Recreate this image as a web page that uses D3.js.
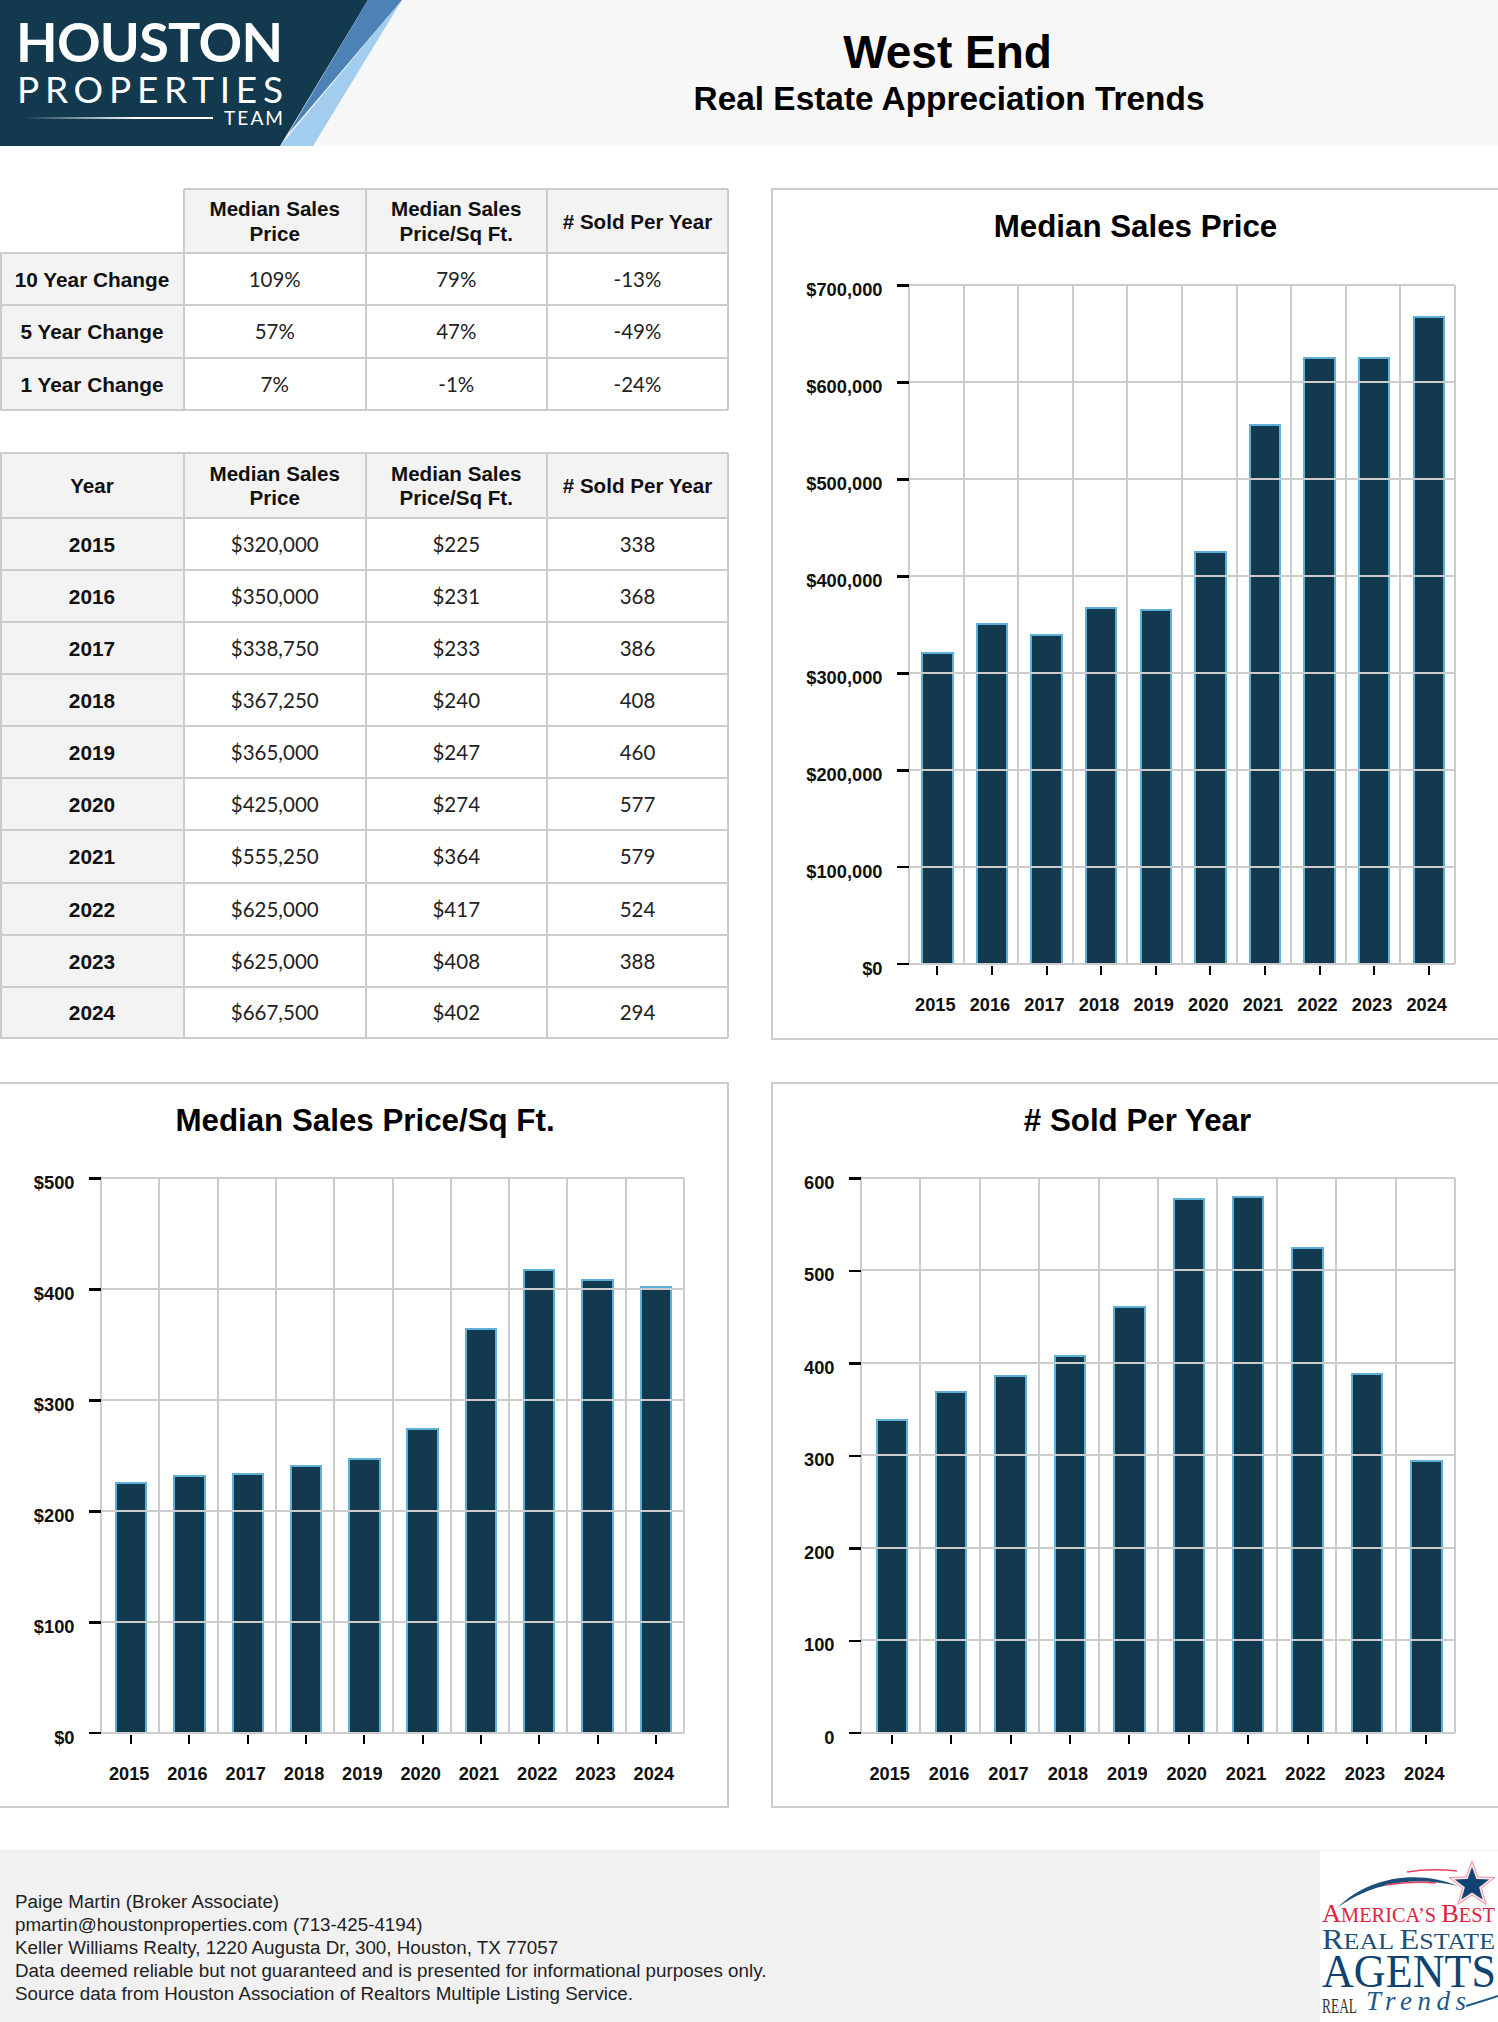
<!DOCTYPE html>
<html><head><meta charset="utf-8">
<script src="https://cdn.jsdelivr.net/npm/d3@7"></script>
<style>
html,body{margin:0;padding:0;background:#fff}
svg{display:block}
text{font-family:"Liberation Sans",Arial,sans-serif}
.crisp line,.crisp rect{shape-rendering:crispEdges}
</style></head><body>
<svg id="page" width="1498" height="2022" viewBox="0 0 1498 2022"></svg>
<script>
const years=[2015,2016,2017,2018,2019,2020,2021,2022,2023,2024];
const medianPrice=[320000,350000,338750,367250,365000,425000,555250,625000,625000,667500];
const pricePerSqFt=[225,231,233,240,247,274,364,417,408,402];
const soldPerYear=[338,368,386,408,460,577,579,524,388,294];
const changeLabels=["10 Year Change","5 Year Change","1 Year Change"];
const changePrice=["109%","57%","7%"];
const changeSqFt=["79%","47%","-1%"];
const changeSold=["-13%","-49%","-24%"];
const priceTicks=[0,100000,200000,300000,400000,500000,600000,700000];
const sqFtTicks=[0,100,200,300,400,500];
const soldTicks=[0,100,200,300,400,500,600];
const footerLines=["Paige Martin (Broker Associate)","pmartin@houstonproperties.com (713-425-4194)","Keller Williams Realty, 1220 Augusta Dr, 300, Houston, TX 77057","Data deemed reliable but not guaranteed and is presented for informational purposes only.","Source data from Houston Association of Realtors Multiple Listing Service."];

const GRID="#cccccc",NAVY="#12394e",EDGE="#5fb0d8",HEADBG="#f3f3f3";
const svg=d3.select("#page");

/* ---------- header ---------- */
svg.append("rect").attr("width",1498).attr("height",146).attr("fill","#f7f7f7");
const poly=(pts,fill)=>svg.append("polygon").attr("points",pts.map(p=>p.join(",")).join(" ")).attr("fill",fill);
poly([[0,0],[368,0],[280,146],[0,146]],NAVY);
poly([[402,0],[313,146],[280,146]],"#a3cdee");
poly([[368,0],[402,0],[288,134]],"#4d82b6");
const defs=svg.append("defs");
const lg=defs.append("linearGradient").attr("id","fade");
lg.append("stop").attr("offset","0").attr("stop-color","#fff").attr("stop-opacity",0);
lg.append("stop").attr("offset","0.6").attr("stop-color","#fff").attr("stop-opacity",1);
const logoText=(t,x,y,size,len,weight)=>svg.append("text").text(t).attr("x",x).attr("y",y)
  .attr("textLength",len).attr("lengthAdjust","spacing")
  .style("font-family","Lato").style("font-size",size+"px").style("font-weight",weight).attr("fill","#fff");
logoText("HOUSTON",16,62,54,267,700);
logoText("PROPERTIES",17,103,37,266,400);
logoText("TEAM",224,125,19,59,400);
svg.append("rect").attr("x",23).attr("y",117).attr("width",190).attr("height",2).attr("fill","url(#fade)");
svg.append("text").text("West End").attr("x",947.5).attr("y",68).attr("text-anchor","middle")
  .style("font-size","46px").style("font-weight",700);
svg.append("text").text("Real Estate Appreciation Trends").attr("x",949).attr("y",110).attr("text-anchor","middle")
  .style("font-size","33.4px").style("font-weight",700);

/* ---------- tables ---------- */
const colEdges=[0,184,365.5,547,728];
function headCell(g,i,y0,y1,lines){
  g.append("rect").attr("x",colEdges[i]).attr("y",y0).attr("width",colEdges[i+1]-colEdges[i]).attr("height",y1-y0).attr("fill",HEADBG);
  const cx=(colEdges[i]+colEdges[i+1])/2, cy=(y0+y1)/2;
  lines.forEach((l,k)=>g.append("text").text(l).attr("x",cx).attr("y",cy+7.5+(k-(lines.length-1)/2)*24.5)
    .attr("text-anchor","middle").style("font-size","20.6px").style("font-weight",700).attr("fill","#111"));
}
function table(rowEdges,rows,firstHead){
  const g=svg.append("g").attr("class","crisp");
  const heads=[firstHead,["Median Sales","Price"],["Median Sales","Price/Sq Ft."],["# Sold Per Year"]];
  heads.forEach((h,i)=>{ if(h) headCell(g,i,rowEdges[0],rowEdges[1],h); });
  rows.forEach((r,ri)=>{
    const y0=rowEdges[ri+1],y1=rowEdges[ri+2];
    g.append("rect").attr("x",0).attr("y",y0).attr("width",colEdges[1]).attr("height",y1-y0).attr("fill",HEADBG);
    r.forEach((v,ci)=>g.append("text").text(v).attr("x",(colEdges[ci]+colEdges[ci+1])/2).attr("y",(y0+y1)/2+7.7)
      .attr("text-anchor","middle").style("font-family",ci?"Lato":null).style("font-size",ci?"20.5px":"20.8px").style("font-weight",ci?400:700).attr("fill",ci?"#222":"#111"));
  });
  const line=(x1,y1,x2,y2)=>g.append("line").attr("x1",x1).attr("y1",y1).attr("x2",x2).attr("y2",y2).attr("stroke",GRID).attr("stroke-width",2);
  rowEdges.forEach((y,i)=>line(i===0&&!firstHead?colEdges[1]:0,y,colEdges[4],y));
  colEdges.forEach((x,i)=>line(x===0?1:x,i===0&&!firstHead?rowEdges[1]:rowEdges[0],x===0?1:x,rowEdges[rowEdges.length-1]));
}
table([189,253,305,358,410],changeLabels.map((l,i)=>[l,changePrice[i],changeSqFt[i],changeSold[i]]),null);
table([453,518,570,622,674,726,778,830,883,935,987,1038],years.map((y,i)=>[String(y),d3.format("$,")(medianPrice[i]),"$"+pricePerSqFt[i],String(soldPerYear[i])]),["Year"]);

/* ---------- charts ---------- */
function panel(b,title,values,ticks,fmt){
  const g=svg.append("g").attr("class","crisp");
  g.append("rect").attr("x",b.px0).attr("y",b.py0).attr("width",b.px1-b.px0).attr("height",b.py1-b.py0)
    .attr("fill","#fff").attr("stroke",GRID).attr("stroke-width",2);
  g.append("text").text(title).attr("x",b.tx).attr("y",b.py0+47.5).attr("text-anchor","middle")
    .style("font-size","31.3px").style("font-weight",700).attr("fill","#000");
  const x=d3.scaleBand().domain(years).range([b.l,b.r]).padding(0);
  const y=d3.scaleLinear().domain([0,d3.max(ticks)]).range([b.b,b.t]);
  const edges=years.map(d=>x(d)).concat([b.r]);
  g.selectAll("line.v").data(edges).join("line").attr("class","v")
    .attr("x1",d=>d).attr("x2",d=>d).attr("y1",b.t).attr("y2",b.b).attr("stroke",GRID).attr("stroke-width",2);
  g.selectAll("rect.bar").data(values).join("rect").attr("class","bar")
    .attr("x",(d,i)=>x(years[i])+x.bandwidth()/2+1-15.2).attr("width",30.4)
    .attr("y",d=>y(d)).attr("height",d=>b.b-y(d))
    .attr("fill",NAVY).attr("stroke",EDGE).attr("stroke-width",2);
  g.selectAll("line.h").data(ticks).join("line").attr("class","h")
    .attr("x1",b.l).attr("x2",b.r).attr("y1",d=>y(d)).attr("y2",d=>y(d)).attr("stroke",GRID).attr("stroke-width",2);
  const ya=g.append("g").attr("transform",`translate(${b.l},0)`)
    .call(d3.axisLeft(y).tickValues(ticks).tickFormat(fmt).tickSize(12).tickPadding(14.5));
  ya.select(".domain").remove();
  ya.selectAll("line").attr("stroke","#000").attr("stroke-width",2.5);
  ya.selectAll("text").attr("dy",null).attr("y",10.5).style("font-size","18.3px").style("font-weight",700).attr("fill","#111");
  const xa=g.append("g").attr("transform",`translate(1,${b.b+2})`)
    .call(d3.axisBottom(x).tickSize(9).tickPadding(0));
  xa.select(".domain").remove();
  xa.selectAll("line").attr("stroke","#000").attr("stroke-width",2);
  xa.selectAll("text").attr("dy",null).attr("y",45.5).attr("x",-2).style("font-size","18.2px").style("font-weight",700).attr("fill","#111");
}
const money=d=>d3.format("$,")(d);
panel({px0:772,px1:1500,py0:189,py1:1039,tx:1135.5,l:909,r:1455,t:285,b:963.7},"Median Sales Price",medianPrice,priceTicks,money);
panel({px0:-2,px1:728,py0:1083,py1:1807,tx:365,l:101,r:684,t:1178,b:1732.7},"Median Sales Price/Sq Ft.",pricePerSqFt,sqFtTicks,money);
panel({px0:772,px1:1500,py0:1083,py1:1807,tx:1137.5,l:861,r:1455,t:1178,b:1732.7},"# Sold Per Year",soldPerYear,soldTicks,d=>String(d));

/* ---------- footer ---------- */
svg.append("rect").attr("x",0).attr("y",1850).attr("width",1498).attr("height",172).attr("fill","#f1f1f1");
svg.selectAll("text.foot").data(footerLines).join("text").attr("class","foot").text(d=>d)
  .attr("x",15).attr("y",(d,i)=>1908+i*23).style("font-size","18.8px").attr("fill","#222");

/* ---------- award logo ---------- */
const a=svg.append("g");
a.append("rect").attr("x",1320).attr("y",1851).attr("width",178).attr("height",171).attr("fill","#fff");
const starPts=(R,r)=>d3.range(10).map(i=>{const q=i%2?r:R,t=-Math.PI/2+i*Math.PI/5;return [1472+q*Math.cos(t),1885+q*Math.sin(t)].join(",");}).join(" ");
a.append("polygon").attr("points",starPts(24,10)).attr("fill","#fbe3e7").attr("stroke","#ef8f9f").attr("stroke-width",1);
a.append("polygon").attr("points",starPts(18,7.5)).attr("fill","#0f4472");
a.append("path").attr("d","M1337 1908 C1370 1875 1420 1870 1458 1886 C1420 1877 1375 1880 1337 1908Z").attr("fill","#1a4f78");
a.append("path").attr("d","M1407 1872 Q1430 1868 1457 1871").attr("fill","none").attr("stroke","#e8455f").attr("stroke-width",1.5);
a.append("path").attr("d","M1386 1885 Q1410 1881 1436 1883").attr("fill","none").attr("stroke","#e8455f").attr("stroke-width",1.5);
const serif=(y,c,parts,len)=>{const t=a.append("text").attr("x",1322).attr("y",y).attr("fill",c).attr("textLength",len).attr("lengthAdjust","spacingAndGlyphs").style("font-family","Liberation Serif");
  parts.forEach(p=>t.append("tspan").text(p[0]).style("font-size",p[1]+"px"));};
serif(1922,"#e4203f",[["A",26],["MERICA’S ",20],["B",26],["EST",20]],173);
serif(1949,"#1f4f78",[["R",30],["EAL ",24],["E",30],["STATE",24]],173);
serif(1987,"#0f4470",[["AGENTS",47]],174);
a.append("text").text("REAL").attr("x",1322).attr("y",2013).attr("textLength",35).attr("lengthAdjust","spacingAndGlyphs").style("font-family","Liberation Serif").style("font-size","20px").attr("fill","#333");
a.append("text").text("Trends").attr("x",1366).attr("y",2010).attr("textLength",100).attr("lengthAdjust","spacing").style("font-family","Liberation Serif").style("font-style","italic").style("font-size","27px").attr("fill","#1f5a86");
a.append("path").attr("d","M1466 2006 Q1480 2002 1498 1996").attr("fill","none").attr("stroke","#1f5a86").attr("stroke-width",2);
</script></body></html>
